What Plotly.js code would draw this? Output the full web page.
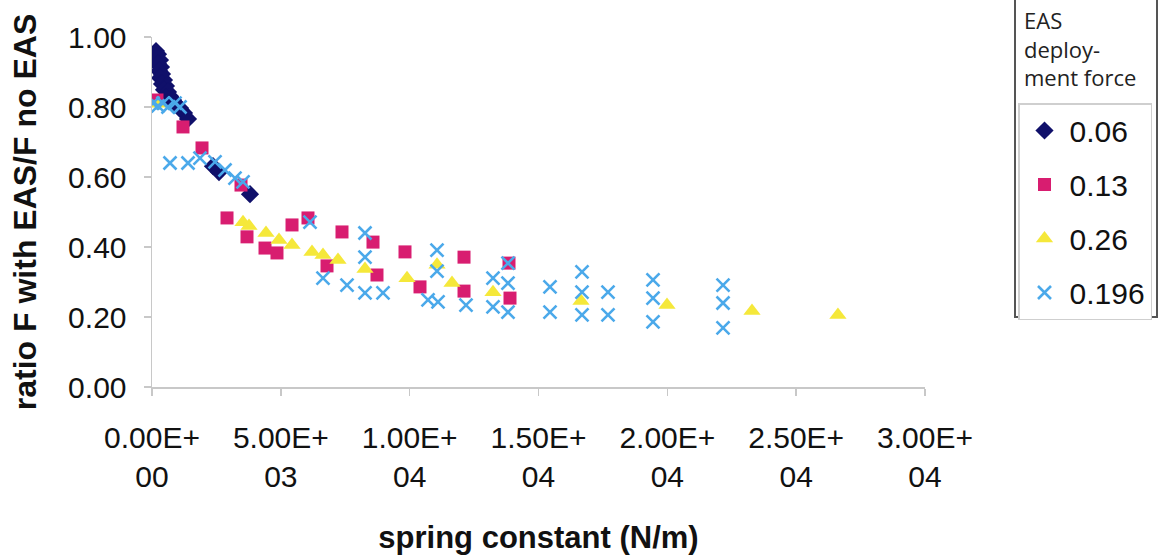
<!DOCTYPE html>
<html><head><meta charset="utf-8">
<script src="https://cdn.plot.ly/plotly-3.0.1.min.js"></script>
<style>html,body{margin:0;padding:0;background:#fff;} #chart{width:1159px;height:555px;}</style>
</head><body><div id="chart"></div>
<script>
// ---- data ----
const seriesNames = ["0.06", "0.13", "0.26", "0.196"];

const x006 = [155, 233, 194, 310, 233, 349, 272, 388, 310, 466, 388, 543, 466, 621, 699, 543, 815, 931, 1087, 1242, 1397, 2367, 2600, 3803];
const y006 = [0.960, 0.951, 0.940, 0.934, 0.923, 0.914, 0.903, 0.894, 0.883, 0.877, 0.866, 0.860, 0.849, 0.843, 0.831, 0.826, 0.820, 0.809, 0.797, 0.783, 0.766, 0.631, 0.614, 0.551];

const x013 = [194, 1203, 1941, 3454, 2911, 3687, 4386, 4851, 5434, 6054, 7374, 8577, 6792, 8732, 9819, 10401, 12109, 12109, 13855, 13894];
const y013 = [0.820, 0.743, 0.683, 0.577, 0.483, 0.429, 0.397, 0.383, 0.463, 0.483, 0.443, 0.414, 0.346, 0.320, 0.386, 0.286, 0.371, 0.274, 0.354, 0.254];

const x026 = [233, 3532, 3765, 4424, 4929, 5434, 6210, 6636, 7219, 8266, 9897, 11061, 11643, 13234, 16649, 19987, 23286, 26621];
const y026 = [0.809, 0.471, 0.460, 0.440, 0.420, 0.406, 0.386, 0.377, 0.363, 0.337, 0.311, 0.349, 0.297, 0.271, 0.246, 0.234, 0.217, 0.206];

const x0196 = [39, 233, 427, 621, 893, 1087, 699, 1397, 1863, 2445, 2833, 3221, 3532, 6132, 6636, 7568, 8266, 8266, 8266, 8965, 10712, 11061, 11061, 11100, 12186, 13234, 13234, 13816, 13816, 13816, 15446, 15446, 16688, 16688, 16688, 17697, 17697, 19444, 19444, 19444, 22161, 22161, 22161];
const y0196 = [0.811, 0.803, 0.811, 0.800, 0.811, 0.800, 0.640, 0.640, 0.654, 0.643, 0.620, 0.597, 0.586, 0.471, 0.311, 0.291, 0.440, 0.371, 0.269, 0.269, 0.249, 0.391, 0.331, 0.243, 0.234, 0.311, 0.229, 0.354, 0.297, 0.214, 0.286, 0.214, 0.329, 0.271, 0.206, 0.271, 0.206, 0.306, 0.254, 0.186, 0.291, 0.240, 0.169];

const xTickVals = [0, 5000, 10000, 15000, 20000, 25000, 30000];
const xTickMant = ["0.00E+", "5.00E+", "1.00E+", "1.50E+", "2.00E+", "2.50E+", "3.00E+"];
const xTickExp  = ["00", "03", "04", "04", "04", "04", "04"];
const yTickVals = [0, 0.2, 0.4, 0.6, 0.8, 1.0];
const yTickText = ["0.00", "0.20", "0.40", "0.60", "0.80", "1.00"];
const legendTitleLines = ["EAS", "deploy-", "ment force"];
const xTitle = "spring constant (N/m)";
const yTitle = "ratio F with EAS/F no EAS";

// ---- chart ----
const FONT = "Liberation Sans, Arial, sans-serif";
const traces = [
  {x: x006, y: y006, name: seriesNames[0], legendgroup: "a", mode: "markers", type: "scatter",
   marker: {symbol: "diamond", size: 14, color: "#10106a"}},
  {x: x013, y: y013, name: seriesNames[1], legendgroup: "b", mode: "markers", type: "scatter",
   marker: {symbol: "square", size: 13, color: "#d81d70"}},
  {x: x026, y: y026, name: seriesNames[2], legendgroup: "c", mode: "markers", type: "scatter",
   marker: {symbol: "triangle-up", size: 15, color: "#f5e83a"}},
  {x: x0196, y: y0196, name: seriesNames[3], legendgroup: "d", mode: "markers", type: "scatter",
   marker: {symbol: "x-thin", size: 13, color: "#4ba9ea", line: {color: "#4ba9ea", width: 2.6}}}
];

const xTickText = xTickMant.map((m, i) => m + "<br>" + xTickExp[i]);

const px2paperY = py => (387 - py) / 350;
const px2paperX = px => (px - 152) / 773;

const layout = {
  width: 1159, height: 555,
  margin: {l: 152, r: 234, t: 37, b: 168, autoexpand: false},
  paper_bgcolor: "#ffffff", plot_bgcolor: "#ffffff",
  font: {family: FONT, color: "#111"},
  showlegend: true,
  xaxis: {
    range: [0, 30000], tickvals: xTickVals, ticktext: xTickText,
    showgrid: false, zeroline: false, showline: true, linecolor: "#c8c8c8", linewidth: 1.5,
    ticks: "outside", ticklen: 7, tickcolor: "#c8c8c8", tickwidth: 1.5,
    tickfont: {size: 30, family: FONT, color: "#111"},
    ticklabelstandoff: 16,
    title: {text: xTitle, font: {size: 31, family: FONT, color: "#111", weight: "bold"}, standoff: 36},
    automargin: false, fixedrange: true
  },
  yaxis: {
    range: [0, 1], tickvals: yTickVals, ticktext: yTickText,
    showgrid: false, zeroline: false, showline: true, linecolor: "#c8c8c8", linewidth: 1.5,
    ticks: "outside", ticklen: 7, tickcolor: "#c8c8c8", tickwidth: 1.5,
    tickfont: {size: 30, family: FONT, color: "#111"},
    ticklabelstandoff: 11,
    title: {text: yTitle, font: {size: 32, family: FONT, color: "#111", weight: "bold"}, standoff: 22},
    automargin: false, fixedrange: true
  },
  legend: {
    x: px2paperX(1018), y: px2paperY(103), xanchor: "left", yanchor: "top",
    bgcolor: "#ffffff", bordercolor: "#cfcfcf", borderwidth: 1.5,
    font: {size: 30, family: FONT, color: "#111"},
    traceorder: "grouped", tracegroupgap: 12, itemwidth: 40
  },
  shapes: [
    {type: "rect", xref: "paper", yref: "paper", layer: "below",
     x0: px2paperX(1015), x1: px2paperX(1157), y0: px2paperY(317), y1: px2paperY(-10),
     line: {color: "#555", width: 2}, fillcolor: "rgba(0,0,0,0)"}
  ],
  annotations: [{
    text: legendTitleLines.join("<br>"), xref: "paper", yref: "paper",
    x: px2paperX(1022), xanchor: "left", align: "left",
    y: px2paperY(49), yanchor: "middle", showarrow: false,
    font: {size: 22, family: "Open Sans, Noto Sans, sans-serif", color: "#222"}
  }]
};

Plotly.newPlot("chart", traces, layout, {displayModeBar: false, staticPlot: true});
</script>
</body></html>
